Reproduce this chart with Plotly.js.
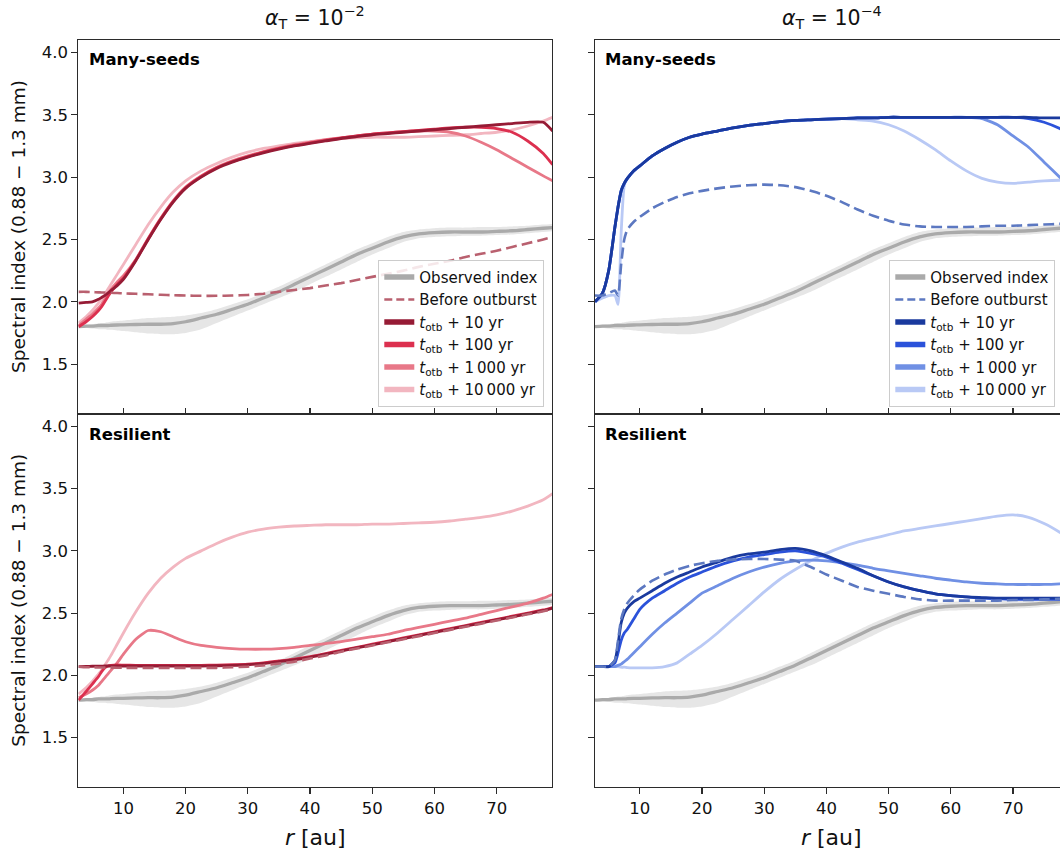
<!DOCTYPE html>
<html>
<head>
<meta charset="utf-8">
<script src="https://cdn.plot.ly/plotly-3.0.1.min.js"></script>
<style>
html,body{margin:0;padding:0;overflow:hidden;background:#fff;}
#chart{width:1070px;height:851px;}
</style>
</head>
<body>
<div id="chart"></div>
<script>
// ---------------- data ----------------
const R = [2.8,4,5,6,6.5,7,7.5,8,9,10, 12,14,16,18,20, 22.5,25,27.5,30,32.5, 35,37.5,40,42.5,45, 47.5,50,52.5,55,57.5, 60,62.5,65,67.5,70, 72.5,75,77.5,79];

const OBS    = [1.80,1.805,1.805,1.81,1.81,1.81,1.81,1.812,1.814,1.815, 1.818,1.82,1.82,1.825,1.84, 1.87,1.90,1.94,1.98,2.03, 2.08,2.14,2.20,2.26,2.32, 2.38,2.43,2.48,2.52,2.545, 2.555,2.56,2.56,2.56,2.565, 2.57,2.58,2.59,2.595];
const OBS_LO = [1.79,1.79,1.785,1.78,1.78,1.78,1.775,1.775,1.77,1.765, 1.755,1.745,1.74,1.74,1.75, 1.78,1.83,1.88,1.93,1.98, 2.03,2.08,2.14,2.20,2.26, 2.32,2.38,2.43,2.48,2.51, 2.52,2.525,2.53,2.53,2.535, 2.54,2.55,2.56,2.565];
const OBS_HI = [1.81,1.815,1.82,1.825,1.83,1.83,1.835,1.84,1.845,1.85, 1.86,1.87,1.875,1.88,1.89, 1.91,1.94,1.98,2.02,2.07, 2.12,2.18,2.24,2.30,2.36, 2.42,2.47,2.52,2.56,2.58, 2.59,2.595,2.595,2.60,2.60, 2.605,2.61,2.62,2.625];

// Many-seeds, alpha_T = 1e-2
const MS2_PRE  = [2.08,2.08,2.078,2.076,2.075,2.074,2.073,2.072,2.07,2.068, 2.064,2.06,2.056,2.053,2.05, 2.048,2.048,2.05,2.055,2.065, 2.08,2.095,2.11,2.13,2.15, 2.175,2.20,2.225,2.25,2.28, 2.305,2.33,2.36,2.385,2.41, 2.44,2.47,2.50,2.52];
const MS2_T10  = [1.99,1.995,2.0,2.02,2.035,2.05,2.07,2.09,2.13,2.18, 2.33,2.50,2.66,2.80,2.91, 3.00,3.07,3.12,3.16,3.195, 3.225,3.25,3.27,3.29,3.31, 3.325,3.34,3.35,3.36,3.37, 3.38,3.39,3.40,3.41,3.42, 3.43,3.44,3.44,3.37];
const MS2_T100 = [1.80,1.84,1.88,1.93,1.96,2.0,2.04,2.08,2.14,2.19, 2.335,2.505,2.665,2.805,2.915, 3.005,3.075,3.125,3.165,3.20, 3.23,3.255,3.275,3.295,3.315, 3.33,3.345,3.355,3.365,3.375, 3.385,3.395,3.40,3.40,3.39, 3.36,3.29,3.19,3.10];
const MS2_T1K  = [1.81,1.86,1.90,1.95,1.98,2.02,2.06,2.10,2.16,2.21, 2.34,2.51,2.67,2.81,2.92, 3.01,3.08,3.13,3.17,3.205, 3.235,3.26,3.28,3.30,3.315, 3.33,3.345,3.355,3.365,3.37, 3.37,3.36,3.33,3.28,3.22, 3.15,3.08,3.01,2.97];
const MS2_T10K = [1.83,1.88,1.93,1.99,2.02,2.06,2.10,2.14,2.22,2.30, 2.46,2.62,2.76,2.88,2.97, 3.05,3.11,3.16,3.20,3.23, 3.25,3.27,3.285,3.30,3.31, 3.315,3.32,3.32,3.32,3.325, 3.33,3.335,3.34,3.35,3.36, 3.38,3.41,3.45,3.48];

// Many-seeds, alpha_T = 1e-4
const MS4_PRE  = [2.05,2.05,2.07,2.09,2.05,2.30,2.50,2.58,2.64,2.68, 2.75,2.80,2.84,2.87,2.89, 2.91,2.925,2.935,2.94,2.935, 2.92,2.89,2.85,2.80,2.74, 2.69,2.65,2.62,2.605,2.60, 2.60,2.60,2.605,2.61,2.61, 2.615,2.62,2.625,2.63];
const MS4_T10  = [2.0,2.07,2.25,2.60,2.76,2.89,2.95,2.99,3.05,3.09, 3.17,3.23,3.28,3.32,3.345, 3.37,3.395,3.415,3.43,3.445, 3.455,3.46,3.465,3.47,3.475, 3.475,3.48,3.48,3.48,3.48, 3.48,3.48,3.48,3.48,3.48, 3.48,3.475,3.475,3.47];
const MS4_T100 = [2.0,2.07,2.25,2.60,2.76,2.89,2.95,2.99,3.05,3.09, 3.17,3.23,3.28,3.32,3.345, 3.37,3.395,3.415,3.43,3.445, 3.455,3.46,3.465,3.47,3.475, 3.475,3.48,3.48,3.48,3.48, 3.48,3.48,3.48,3.48,3.48, 3.47,3.44,3.39,3.35];
const MS4_T1K  = [2.0,2.07,2.25,2.60,2.76,2.89,2.95,2.99,3.05,3.09, 3.17,3.23,3.28,3.32,3.345, 3.37,3.395,3.415,3.43,3.445, 3.455,3.46,3.465,3.47,3.475, 3.475,3.48,3.48,3.48,3.48, 3.48,3.48,3.47,3.42,3.33, 3.24,3.12,3.00,2.93];
const MS4_T10K = [2.0,2.03,2.05,2.05,1.98,2.55,2.93,2.99,3.05,3.09, 3.17,3.23,3.28,3.32,3.345, 3.37,3.395,3.415,3.43,3.445, 3.455,3.46,3.465,3.47,3.46, 3.45,3.42,3.37,3.30,3.22, 3.13,3.05,2.99,2.96,2.95, 2.96,2.97,2.975,2.975];

// Resilient, alpha_T = 1e-2
const RS2_PRE  = [2.07,2.065,2.065,2.063,2.063,2.062,2.062,2.062,2.061,2.06, 2.06,2.06,2.06,2.06,2.06, 2.06,2.06,2.065,2.07,2.08, 2.095,2.11,2.135,2.16,2.19, 2.215,2.24,2.265,2.29,2.315, 2.34,2.365,2.39,2.415,2.44, 2.465,2.49,2.515,2.53];
const RS2_T10  = [2.07,2.072,2.073,2.074,2.074,2.075,2.075,2.075,2.075,2.075, 2.075,2.075,2.075,2.075,2.075, 2.075,2.077,2.08,2.085,2.095, 2.11,2.125,2.145,2.17,2.195, 2.22,2.245,2.27,2.295,2.32, 2.345,2.37,2.395,2.42,2.445, 2.47,2.495,2.52,2.54];
const RS2_T100 = [1.80,1.87,1.93,1.99,2.03,2.06,2.075,2.08,2.083,2.082, 2.08,2.08,2.08,2.08,2.08, 2.08,2.082,2.085,2.09,2.10, 2.115,2.13,2.15,2.175,2.20, 2.225,2.25,2.275,2.30,2.325, 2.35,2.375,2.40,2.425,2.45, 2.475,2.50,2.525,2.545];
const RS2_T1K  = [1.82,1.85,1.88,1.92,1.95,1.98,2.01,2.04,2.10,2.17, 2.29,2.36,2.35,2.31,2.27, 2.24,2.225,2.215,2.21,2.21, 2.215,2.225,2.24,2.255,2.27, 2.29,2.31,2.33,2.36,2.385, 2.41,2.435,2.46,2.49,2.52, 2.55,2.58,2.62,2.65];
const RS2_T10K = [1.85,1.90,1.95,2.01,2.04,2.08,2.12,2.16,2.25,2.34, 2.51,2.66,2.78,2.87,2.94, 3.00,3.06,3.11,3.15,3.175, 3.19,3.20,3.205,3.21,3.21, 3.21,3.215,3.215,3.22,3.225, 3.23,3.24,3.255,3.27,3.29, 3.32,3.36,3.41,3.46];

// Resilient, alpha_T = 1e-4
const RS4_PRE  = [2.07,2.07,2.07,2.12,2.28,2.45,2.53,2.58,2.64,2.69, 2.76,2.81,2.85,2.88,2.90, 2.92,2.93,2.935,2.935,2.93, 2.92,2.87,2.81,2.76,2.71, 2.68,2.655,2.63,2.61,2.60, 2.60,2.60,2.60,2.60,2.605, 2.605,2.61,2.615,2.62];
const RS4_T10  = [2.07,2.07,2.07,2.12,2.25,2.42,2.50,2.54,2.59,2.62, 2.68,2.74,2.79,2.83,2.87, 2.91,2.95,2.975,2.99,3.01, 3.02,3.00,2.96,2.91,2.86, 2.80,2.75,2.71,2.68,2.655, 2.64,2.63,2.625,2.62,2.62, 2.62,2.62,2.62,2.62];
const RS4_T100 = [2.07,2.07,2.07,2.10,2.18,2.28,2.34,2.37,2.45,2.53, 2.62,2.68,2.74,2.79,2.83, 2.88,2.92,2.95,2.97,2.99, 3.00,2.98,2.95,2.90,2.85, 2.80,2.75,2.71,2.68,2.655, 2.64,2.63,2.62,2.615,2.61, 2.61,2.61,2.61,2.61];
const RS4_T1K  = [2.07,2.07,2.07,2.07,2.08,2.09,2.11,2.13,2.18,2.23, 2.33,2.42,2.50,2.58,2.66, 2.72,2.78,2.83,2.87,2.90, 2.92,2.925,2.92,2.905,2.885, 2.86,2.84,2.82,2.80,2.78, 2.765,2.75,2.74,2.735,2.73, 2.73,2.73,2.735,2.74];
const RS4_T10K = [2.07,2.07,2.07,2.07,2.07,2.065,2.065,2.062,2.06,2.06, 2.06,2.07,2.10,2.17,2.24, 2.34,2.45,2.56,2.67,2.77, 2.85,2.92,2.98,3.03,3.07, 3.10,3.13,3.16,3.18,3.20, 3.22,3.24,3.26,3.28,3.29, 3.27,3.22,3.15,3.10];

const LEGEND_LABELS = ["Observed index", "Before outburst",
  "<i>t</i><sub>otb</sub> + 10 yr", "<i>t</i><sub>otb</sub> + 100 yr",
  "<i>t</i><sub>otb</sub> + 1\u2009000 yr", "<i>t</i><sub>otb</sub> + 10\u2009000 yr"];
const COL_TITLES = ["<i>\u03b1</i><sub>T</sub> = 10<sup>\u22122</sup>", "<i>\u03b1</i><sub>T</sub> = 10<sup>\u22124</sup>"];
const ROW_LABELS = ["Many-seeds", "Resilient"];
const Y_TITLE = "Spectral index (0.88 \u2212 1.3 mm)";
const X_TITLE = "<i>r</i> [au]";

// ---------------- styling ----------------
const RED  = {pre:'#b9606f', t10:'#961b35', t100:'#dc304f', t1k:'#e87888', t10k:'#f2b6c0'};
const BLUE = {pre:'#5c78c1', t10:'#1a3a9e', t100:'#2b52da', t1k:'#7090e4', t10k:'#b9c9f5'};
const GRAY = '#aaaaaa', BAND = '#e6e6e6';
const W = 1070, H = 851;
const FONT = 'DejaVu Sans, sans-serif';
const px = v => v / W, py = v => 1 - v / H;
const SM = 0.55;

const traces = [];
function panel(n, pal, pre, t10, t100, t1k, t10k) {
  const xa = n === 1 ? 'x' : 'x' + n, ya = n === 1 ? 'y' : 'y' + n;
  const base = {x: R, xaxis: xa, yaxis: ya, mode: 'lines', showlegend: false, hoverinfo: 'skip'};
  const L = (w, c, d) => ({width: w, color: c, dash: d || 'solid', shape: 'spline', smoothing: SM});
  traces.push(Object.assign({}, base, {y: OBS_LO, line: {width: 0, color: BAND, shape: 'spline', smoothing: SM}}));
  traces.push(Object.assign({}, base, {y: OBS_HI, line: {width: 0, color: BAND, shape: 'spline', smoothing: SM}, fill: 'tonexty', fillcolor: BAND}));
  traces.push(Object.assign({}, base, {y: OBS, line: L(3.3, GRAY)}));
  traces.push(Object.assign({}, base, {y: t10k, line: L(2.8, pal.t10k)}));
  traces.push(Object.assign({}, base, {y: t1k, line: L(2.8, pal.t1k)}));
  traces.push(Object.assign({}, base, {y: t100, line: L(2.8, pal.t100)}));
  traces.push(Object.assign({}, base, {y: t10, line: L(2.8, pal.t10)}));
  traces.push(Object.assign({}, base, {y: pre, line: L(2.6, pal.pre, '11px,5px')}));
}
panel(1, RED, MS2_PRE, MS2_T10, MS2_T100, MS2_T1K, MS2_T10K);
panel(2, BLUE, MS4_PRE, MS4_T10, MS4_T100, MS4_T1K, MS4_T10K);
panel(3, RED, RS2_PRE, RS2_T10, RS2_T100, RS2_T1K, RS2_T10K);
panel(4, BLUE, RS4_PRE, RS4_T10, RS4_T100, RS4_T1K, RS4_T10K);

// legend-only entries (thicker legend lines)
function legendEntries(n, pal, lg) {
  const xa = n === 1 ? 'x' : 'x' + n, ya = n === 1 ? 'y' : 'y' + n;
  const cols = [GRAY, pal.pre, pal.t10, pal.t100, pal.t1k, pal.t10k];
  LEGEND_LABELS.forEach((lab, i) => {
    traces.push({x: [null], y: [null], xaxis: xa, yaxis: ya, mode: 'lines', name: lab, legend: lg,
      line: {width: i === 1 ? 2.6 : 5.5, color: cols[i], dash: i === 1 ? '8px,4px' : 'solid'}});
  });
}
legendEntries(1, RED, 'legend');
legendEntries(2, BLUE, 'legend2');

const xL = [px(78.3), px(552.3)], xR = [px(594.7), px(1068.7)];
const yT = [py(414), py(40)], yB = [py(787.3), py(414)];
const AX = {showline: true, mirror: true, linecolor: '#2b2b2b', linewidth: 1.1, showgrid: false, zeroline: false,
  ticks: 'outside', ticklen: 6, tickwidth: 1.1, tickcolor: '#2b2b2b',
  tickfont: {family: FONT, size: 16.5, color: '#111'}, fixedrange: true};
const XA = Object.assign({}, AX, {range: [2.75, 78.95], tick0: 0, dtick: 10});
const YA = Object.assign({}, AX, {range: [1.10, 4.10], tick0: 1.5, dtick: 0.5, tickformat: '.1f'});

const legBase = {bgcolor: 'rgba(255,255,255,0.85)', bordercolor: '#cccccc', borderwidth: 1,
  font: {family: FONT, size: 15, color: '#111'}, yanchor: 'bottom', tracegroupgap: 0, traceorder: 'normal'};

const ann = [];
const fnt = (s, extra) => Object.assign({family: FONT, size: s, color: '#111'}, extra || {});
ann.push({text: COL_TITLES[0], x: px(315.3), y: py(18), xref: 'paper', yref: 'paper', showarrow: false, xanchor: 'center', yanchor: 'middle', font: fnt(20.5)});
ann.push({text: COL_TITLES[1], x: px(831.7), y: py(18), xref: 'paper', yref: 'paper', showarrow: false, xanchor: 'center', yanchor: 'middle', font: fnt(20.5)});
[[87.3, 59.7, 0], [603.3, 59.7, 0], [87.3, 434, 1], [603.3, 434, 1]].forEach(a => {
  ann.push({text: '<b>' + ROW_LABELS[a[2]] + '</b>', x: px(a[0]), y: py(a[1]), xref: 'paper', yref: 'paper', showarrow: false, xanchor: 'left', yanchor: 'middle', font: fnt(16.5, {color: '#000'})});
});
[227, 600.7].forEach(yc => {
  ann.push({text: Y_TITLE, x: px(19), y: py(yc), xref: 'paper', yref: 'paper', showarrow: false, textangle: -90, xanchor: 'center', yanchor: 'middle', font: fnt(18.5)});
});
[315.3, 831.7].forEach(xc => {
  ann.push({text: X_TITLE, x: px(xc), y: py(837), xref: 'paper', yref: 'paper', showarrow: false, xanchor: 'center', yanchor: 'middle', font: fnt(22)});
});

const layout = {
  width: W, height: H, margin: {l: 0, r: 0, t: 0, b: 0},
  paper_bgcolor: '#fff', plot_bgcolor: '#fff', font: {family: FONT},
  xaxis:  Object.assign({}, XA, {domain: xL, anchor: 'y',  ticks: 'inside', showticklabels: false}),
  yaxis:  Object.assign({}, YA, {domain: yT, anchor: 'x'}),
  xaxis2: Object.assign({}, XA, {domain: xR, anchor: 'y2', ticks: 'inside', showticklabels: false}),
  yaxis2: Object.assign({}, YA, {domain: yT, anchor: 'x2', showticklabels: false}),
  xaxis3: Object.assign({}, XA, {domain: xL, anchor: 'y3'}),
  yaxis3: Object.assign({}, YA, {domain: yB, anchor: 'x3'}),
  xaxis4: Object.assign({}, XA, {domain: xR, anchor: 'y4'}),
  yaxis4: Object.assign({}, YA, {domain: yB, anchor: 'x4', showticklabels: false}),
  legend:  Object.assign({}, legBase, {x: px(544.3), xanchor: 'right', y: py(406.7)}),
  legend2: Object.assign({}, legBase, {x: px(889.3), xanchor: 'left', y: py(406.7)}),
  annotations: ann,
  showlegend: true
};
Plotly.newPlot('chart', traces, layout, {staticPlot: true, displayModeBar: false});
</script>
</body>
</html>
